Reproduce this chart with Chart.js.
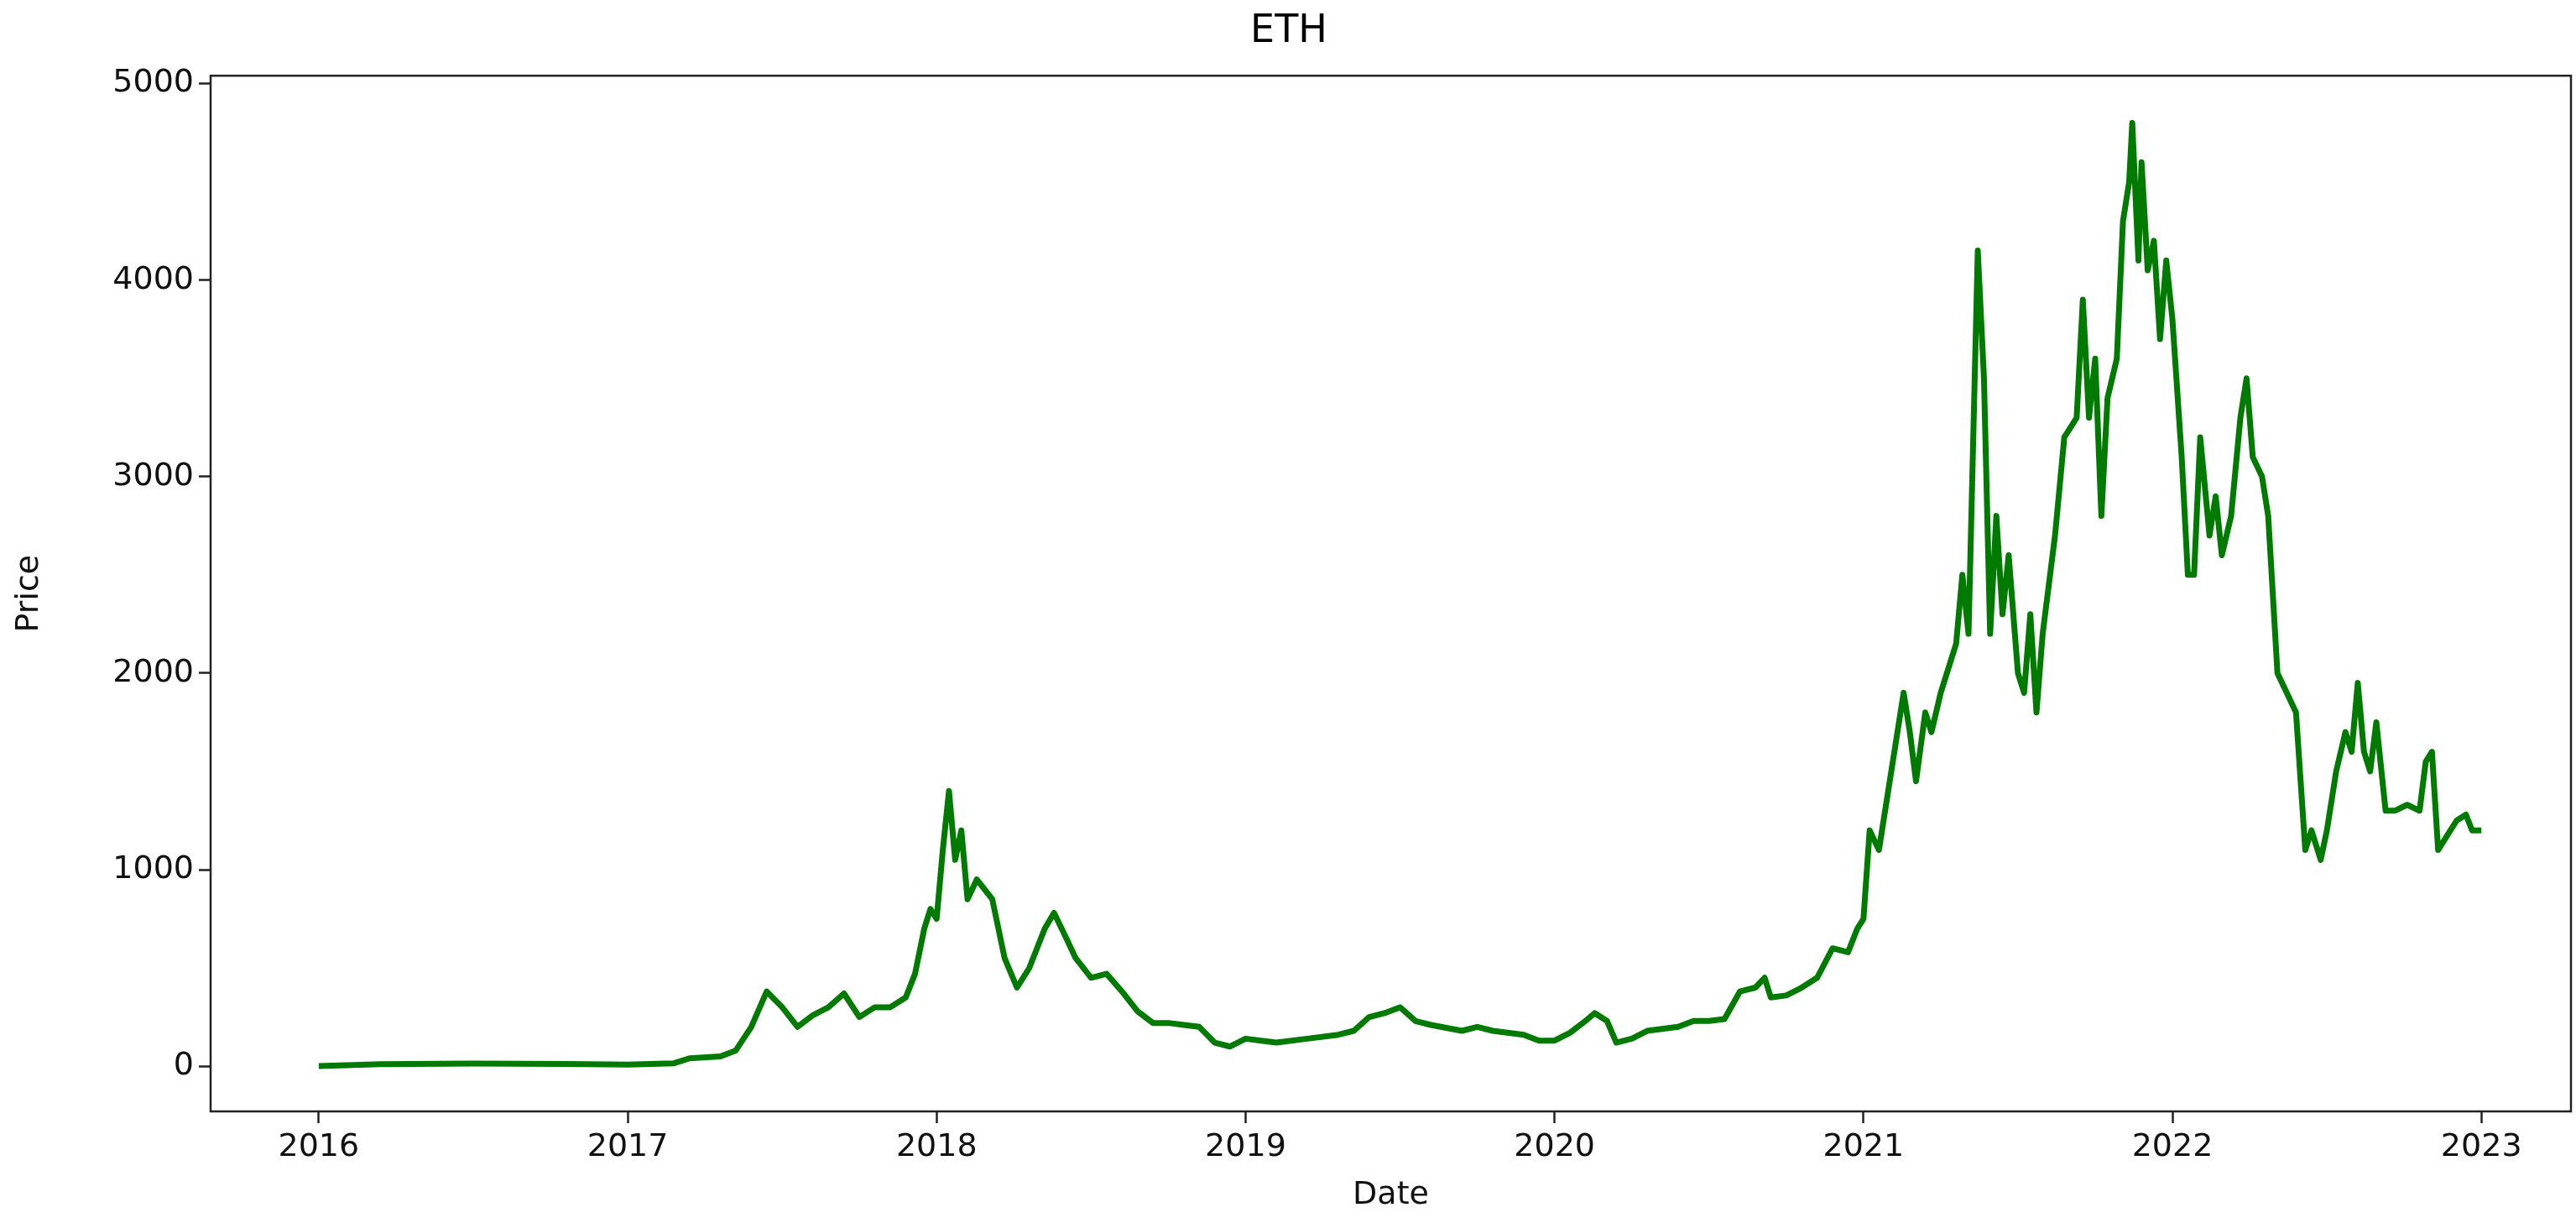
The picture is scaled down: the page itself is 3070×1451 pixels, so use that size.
<!DOCTYPE html>
<html><head><meta charset="utf-8">
<script src="https://cdn.jsdelivr.net/npm/chart.js@4/dist/chart.umd.min.js"></script>
<style>html,body{margin:0;padding:0;background:#fff}#w{width:3070px;height:1451px}</style>
</head><body><div id="w"><canvas id="c"></canvas></div>
<script>
const dates = [2016.0,2016.2,2016.5,2016.8,2017.0,2017.15,2017.2,2017.3,2017.35,2017.4,2017.45,2017.5,2017.55,2017.6,2017.65,2017.7,2017.75,2017.8,2017.85,2017.9,2017.93,2017.96,2017.98,2018.0,2018.02,2018.04,2018.06,2018.08,2018.1,2018.13,2018.18,2018.22,2018.26,2018.3,2018.35,2018.38,2018.42,2018.45,2018.5,2018.55,2018.6,2018.65,2018.7,2018.75,2018.8,2018.85,2018.9,2018.95,2019.0,2019.05,2019.1,2019.2,2019.3,2019.35,2019.4,2019.45,2019.5,2019.55,2019.6,2019.7,2019.75,2019.8,2019.9,2019.95,2020.0,2020.05,2020.1,2020.13,2020.17,2020.2,2020.25,2020.3,2020.4,2020.45,2020.5,2020.55,2020.6,2020.65,2020.68,2020.7,2020.75,2020.8,2020.85,2020.9,2020.95,2020.98,2021.0,2021.02,2021.05,2021.08,2021.1,2021.13,2021.15,2021.17,2021.2,2021.22,2021.25,2021.27,2021.3,2021.32,2021.34,2021.36,2021.37,2021.39,2021.41,2021.43,2021.45,2021.47,2021.5,2021.52,2021.54,2021.56,2021.58,2021.62,2021.65,2021.67,2021.69,2021.71,2021.73,2021.75,2021.77,2021.79,2021.82,2021.84,2021.86,2021.87,2021.89,2021.9,2021.92,2021.94,2021.96,2021.98,2022.0,2022.03,2022.05,2022.07,2022.09,2022.12,2022.14,2022.16,2022.19,2022.22,2022.24,2022.26,2022.29,2022.31,2022.34,2022.37,2022.4,2022.43,2022.45,2022.48,2022.5,2022.53,2022.56,2022.58,2022.6,2022.62,2022.64,2022.66,2022.69,2022.72,2022.76,2022.8,2022.82,2022.84,2022.86,2022.9,2022.92,2022.95,2022.97,2023.0];
const prices = [1,10,14,11,8,15,40,50,80,200,380,300,200,260,300,370,250,300,300,350,470,700,800,750,1100,1400,1050,1200,850,950,850,550,400,500,700,780,650,550,450,470,380,280,220,220,210,200,120,100,140,130,120,140,160,180,250,270,300,230,210,180,200,180,160,130,130,170,230,270,230,120,140,180,200,230,230,240,380,400,450,350,360,400,450,600,580,700,750,1200,1100,1400,1600,1900,1700,1450,1800,1700,1900,2000,2150,2500,2200,3500,4150,3500,2200,2800,2300,2600,2000,1900,2300,1800,2200,2700,3200,3250,3300,3900,3300,3600,2800,3400,3600,4300,4500,4800,4100,4600,4050,4200,3700,4100,3800,3100,2500,2500,3200,2700,2900,2600,2800,3300,3500,3100,3000,2800,2000,1900,1800,1100,1200,1050,1200,1500,1700,1600,1950,1600,1500,1750,1300,1300,1330,1300,1550,1600,1100,1200,1250,1280,1200,1200];
const xTicks = [2016,2017,2018,2019,2020,2021,2022,2023];
const yTicks = [0,1000,2000,3000,4000,5000];
const F = "'DejaVu Sans', sans-serif";
const frame = {id:'frame', afterDraw(c){const a=c.chartArea,x=c.ctx;x.save();x.strokeStyle='#222';x.lineWidth=2.5;x.strokeRect(a.left,a.top,a.right-a.left,a.bottom-a.top);x.restore();}};
new Chart(document.getElementById('c'), {
  type:'line',
  data:{datasets:[{data:dates.map((d,i)=>({x:d,y:prices[i]})),borderColor:'#007a00',borderWidth:7,pointRadius:0,tension:0,borderJoinStyle:'round'}]},
  options:{responsive:true,maintainAspectRatio:false,animation:false,
    layout:{padding:{left:8,right:6,top:0,bottom:0}},
    plugins:{legend:{display:false},tooltip:{enabled:false},
      title:{display:true,text:'ETH',color:'#000',font:{family:F,size:46,weight:'normal'},padding:{top:10,bottom:25}}},
    scales:{
      x:{type:'linear',min:2015.65,max:2023.29,
        afterBuildTicks:s=>{s.ticks=xTicks.map(v=>({value:v}));},
        afterFit:s=>{s.height=127;},
        grid:{drawOnChartArea:false,color:'#222',tickLength:14,tickWidth:2.5},border:{display:false},
        ticks:{color:'#111',font:{family:F,size:38},padding:6,maxRotation:0,callback:v=>String(v)},
        title:{display:true,text:'Date',color:'#111',font:{family:F,size:38},padding:{top:0}}},
      y:{min:-230,max:5040,
        afterBuildTicks:s=>{s.ticks=yTicks.map(v=>({value:v}));},
        afterFit:s=>{s.width=243;},
        grid:{drawOnChartArea:false,color:'#222',tickLength:14,tickWidth:2.5},border:{display:false},
        ticks:{color:'#111',font:{family:F,size:38},padding:6,callback:v=>String(v)},
        title:{display:true,text:'Price',color:'#111',font:{family:F,size:38},padding:{bottom:6}}}
    }},
  plugins:[frame]
});
</script></body></html>
